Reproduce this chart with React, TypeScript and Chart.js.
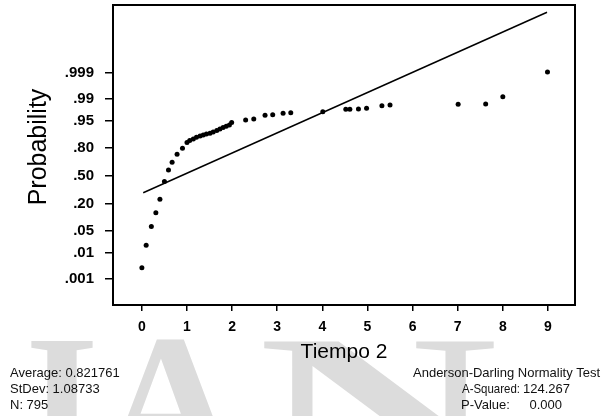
import React, { useEffect, useRef } from 'react';
import { Chart, registerables } from 'chart.js';

Chart.register(...registerables);

// Observed data (Tiempo 2) and their normal scores (probability axis in z units)
const timeValues = [0.0, 0.095, 0.21, 0.31, 0.4, 0.5, 0.59, 0.67, 0.78, 0.9, 1.0, 1.06, 1.14, 1.21, 1.29, 1.36, 1.43, 1.51, 1.58, 1.66, 1.73, 1.8, 1.87, 1.94, 1.99, 2.3, 2.48, 2.73, 2.9, 3.13, 3.3, 4.01, 4.52, 4.61, 4.8, 4.98, 5.32, 5.5, 7.01, 7.62, 8.0, 8.99];
const normalScores = [-2.77, -2.09, -1.53, -1.11, -0.71, -0.17, 0.17, 0.41, 0.65, 0.83, 1.0, 1.06, 1.11, 1.16, 1.2, 1.23, 1.26, 1.28, 1.32, 1.36, 1.41, 1.45, 1.49, 1.53, 1.6, 1.68, 1.71, 1.82, 1.84, 1.88, 1.9, 1.93, 2.0, 2.0, 2.01, 2.03, 2.11, 2.13, 2.15, 2.16, 2.38, 3.12];

// Fitted reference line end points
const fitTime = [0.03, 8.98];
const fitScores = [-0.51, 4.92];

// Axis ticks
const xTickValues = [0, 1, 2, 3, 4, 5, 6, 7, 8, 9];
const probTicks = [0.001, 0.01, 0.05, 0.2, 0.5, 0.8, 0.95, 0.99, 0.999];
const probLabels = ['.001', '.01', '.05', '.20', '.50', '.80', '.95', '.99', '.999'];

// Text
const xTitle = 'Tiempo 2';
const yTitle = 'Probability';
const statsLeft = ['Average: 0.821761', 'StDev: 1.08733', 'N: 795'];
const testTitle = 'Anderson-Darling Normality Test';
const testLabels = ['A-Squared:', 'P-Value:'];
const testValues = ['124.267', '0.000'];
const watermark = ['I', 'A', 'N'];

const FONT = '"Liberation Sans", Arial, sans-serif';

// inverse standard normal CDF (Acklam) used for the probability scale
function probit(p: number): number {
  const a = [-3.969683028665376e1, 2.209460984245205e2, -2.759285104469687e2, 1.38357751867269e2, -3.066479806614716e1, 2.506628277459239];
  const b = [-5.447609879822406e1, 1.615858368580409e2, -1.556989798598866e2, 6.680131188771972e1, -1.328068155288572e1];
  const c = [-7.784894002430293e-3, -3.223964580411365e-1, -2.400758277161838, -2.549732539343734, 4.374664141464968, 2.938163982698783];
  const d = [7.784695709041462e-3, 3.224671290700398e-1, 2.445134137142996, 3.754408661907416];
  const pl = 0.02425;
  const ph = 1 - pl;
  if (p < pl) {
    const q = Math.sqrt(-2 * Math.log(p));
    return (((((c[0] * q + c[1]) * q + c[2]) * q + c[3]) * q + c[4]) * q + c[5]) / ((((d[0] * q + d[1]) * q + d[2]) * q + d[3]) * q + 1);
  }
  if (p <= ph) {
    const q = p - 0.5;
    const r = q * q;
    return ((((((a[0] * r + a[1]) * r + a[2]) * r + a[3]) * r + a[4]) * r + a[5]) * q) / (((((b[0] * r + b[1]) * r + b[2]) * r + b[3]) * r + b[4]) * r + 1);
  }
  const q = Math.sqrt(-2 * Math.log(1 - p));
  return -(((((c[0] * q + c[1]) * q + c[2]) * q + c[3]) * q + c[4]) * q + c[5]) / ((((d[0] * q + d[1]) * q + d[2]) * q + d[3]) * q + 1);
}

const decorPlugin = {
  id: 'decor',
  beforeDraw(chart: any) {
    const ctx = chart.ctx as CanvasRenderingContext2D;
    ctx.save();
    ctx.fillStyle = '#ffffff';
    ctx.fillRect(0, 0, chart.width, chart.height);
    // light grey watermark letters
    ctx.fillStyle = '#dcdcdc';
    ctx.font = 'bold 190px "Liberation Serif", "DejaVu Serif", serif';
    ctx.textBaseline = 'alphabetic';
    ctx.textAlign = 'center';
    ctx.fillText(watermark[0], 62, 466);
    ctx.fillText(watermark[1], 170, 466);
    ctx.save();
    ctx.translate(378, 466);
    ctx.scale(1.75, 1);
    ctx.fillText(watermark[2], 0, 0);
    ctx.restore();
    ctx.restore();
  },
  afterDraw(chart: any) {
    const ctx = chart.ctx as CanvasRenderingContext2D;
    const { left, top, right, bottom } = chart.chartArea;
    ctx.save();
    ctx.strokeStyle = '#000';
    ctx.lineWidth = 2;
    ctx.strokeRect(left, top, right - left, bottom - top);

    ctx.fillStyle = '#000';
    // axis titles
    ctx.font = `21px ${FONT}`;
    ctx.textAlign = 'center';
    ctx.textBaseline = 'middle';
    ctx.fillText(xTitle, (left + right) / 2, 352);
    ctx.save();
    ctx.translate(39, 147);
    ctx.rotate(-Math.PI / 2);
    ctx.font = `25px ${FONT}`;
    ctx.fillText(yTitle, 0, 0);
    ctx.restore();

    // statistics
    ctx.font = `13px ${FONT}`;
    ctx.textAlign = 'left';
    ctx.fillStyle = '#111';
    const rows = [373, 389, 405];
    statsLeft.forEach((t, i) => ctx.fillText(t, 10, rows[i]));
    ctx.fillText(testTitle, 413, rows[0]);
    ctx.fillText(testLabels[0], 462, rows[1], 58);
    ctx.fillText(testLabels[1], 461, rows[2], 50);
    ctx.textAlign = 'right';
    ctx.fillText(testValues[0], 570, rows[1]);
    ctx.fillText(testValues[1], 562, rows[2]);
    ctx.restore();
  },
};

export default function App() {
  const ref = useRef<HTMLCanvasElement | null>(null);

  useEffect(() => {
    if (!ref.current) return;
    const chart = new Chart(ref.current, {
      type: 'scatter',
      data: {
        datasets: [
          {
            data: timeValues.map((x, i) => ({ x, y: normalScores[i] })),
            pointRadius: 2.5,
            pointBackgroundColor: '#000',
            pointBorderWidth: 0,
            showLine: false,
          },
          {
            data: fitTime.map((x, i) => ({ x, y: fitScores[i] })),
            showLine: true,
            borderColor: '#000',
            borderWidth: 1.5,
            pointRadius: 0,
          },
        ],
      },
      options: {
        animation: false,
        responsive: false,
        maintainAspectRatio: false,
        layout: { padding: { left: 0, top: 5, right: 33, bottom: 0 } },
        plugins: { legend: { display: false }, tooltip: { enabled: false } },
        scales: {
          x: {
            type: 'linear',
            min: -0.64,
            max: 9.6,
            afterBuildTicks: (s: any) => {
              s.ticks = xTickValues.map((v) => ({ value: v }));
            },
            afterFit: (s: any) => {
              s.height = 111;
              s.paddingLeft = 0;
              s.paddingRight = 0;
            },
            grid: { drawOnChartArea: false, drawTicks: true, tickLength: 6, color: '#000', lineWidth: 1.5 },
            border: { display: true, color: '#000', width: 2 },
            ticks: { color: '#000', font: { family: FONT, size: 14, weight: 'bold' }, padding: 8, maxRotation: 0, callback: (v: any) => String(v) },
          },
          y: {
            type: 'linear',
            min: -3.89,
            max: 5.14,
            afterBuildTicks: (s: any) => {
              s.ticks = probTicks.map((p) => ({ value: probit(p) }));
            },
            afterFit: (s: any) => {
              s.width = 113;
              s.paddingTop = 0;
              s.paddingBottom = 0;
            },
            grid: { drawOnChartArea: false, drawTicks: true, tickLength: 8, color: '#000', lineWidth: 1.5 },
            border: { display: true, color: '#000', width: 2 },
            ticks: {
              color: '#000',
              font: { family: FONT, size: 15, weight: 'bold' },
              padding: 11,
              callback: (_v: any, i: number) => probLabels[i],
            },
          },
        },
      },
      plugins: [decorPlugin],
    } as any);
    return () => chart.destroy();
  }, []);

  return (
    <canvas
      ref={ref}
      width={608}
      height={416}
      style={{ position: 'absolute', left: 0, top: 0, width: 608, height: 416, display: 'block' }}
    />
  );
}
